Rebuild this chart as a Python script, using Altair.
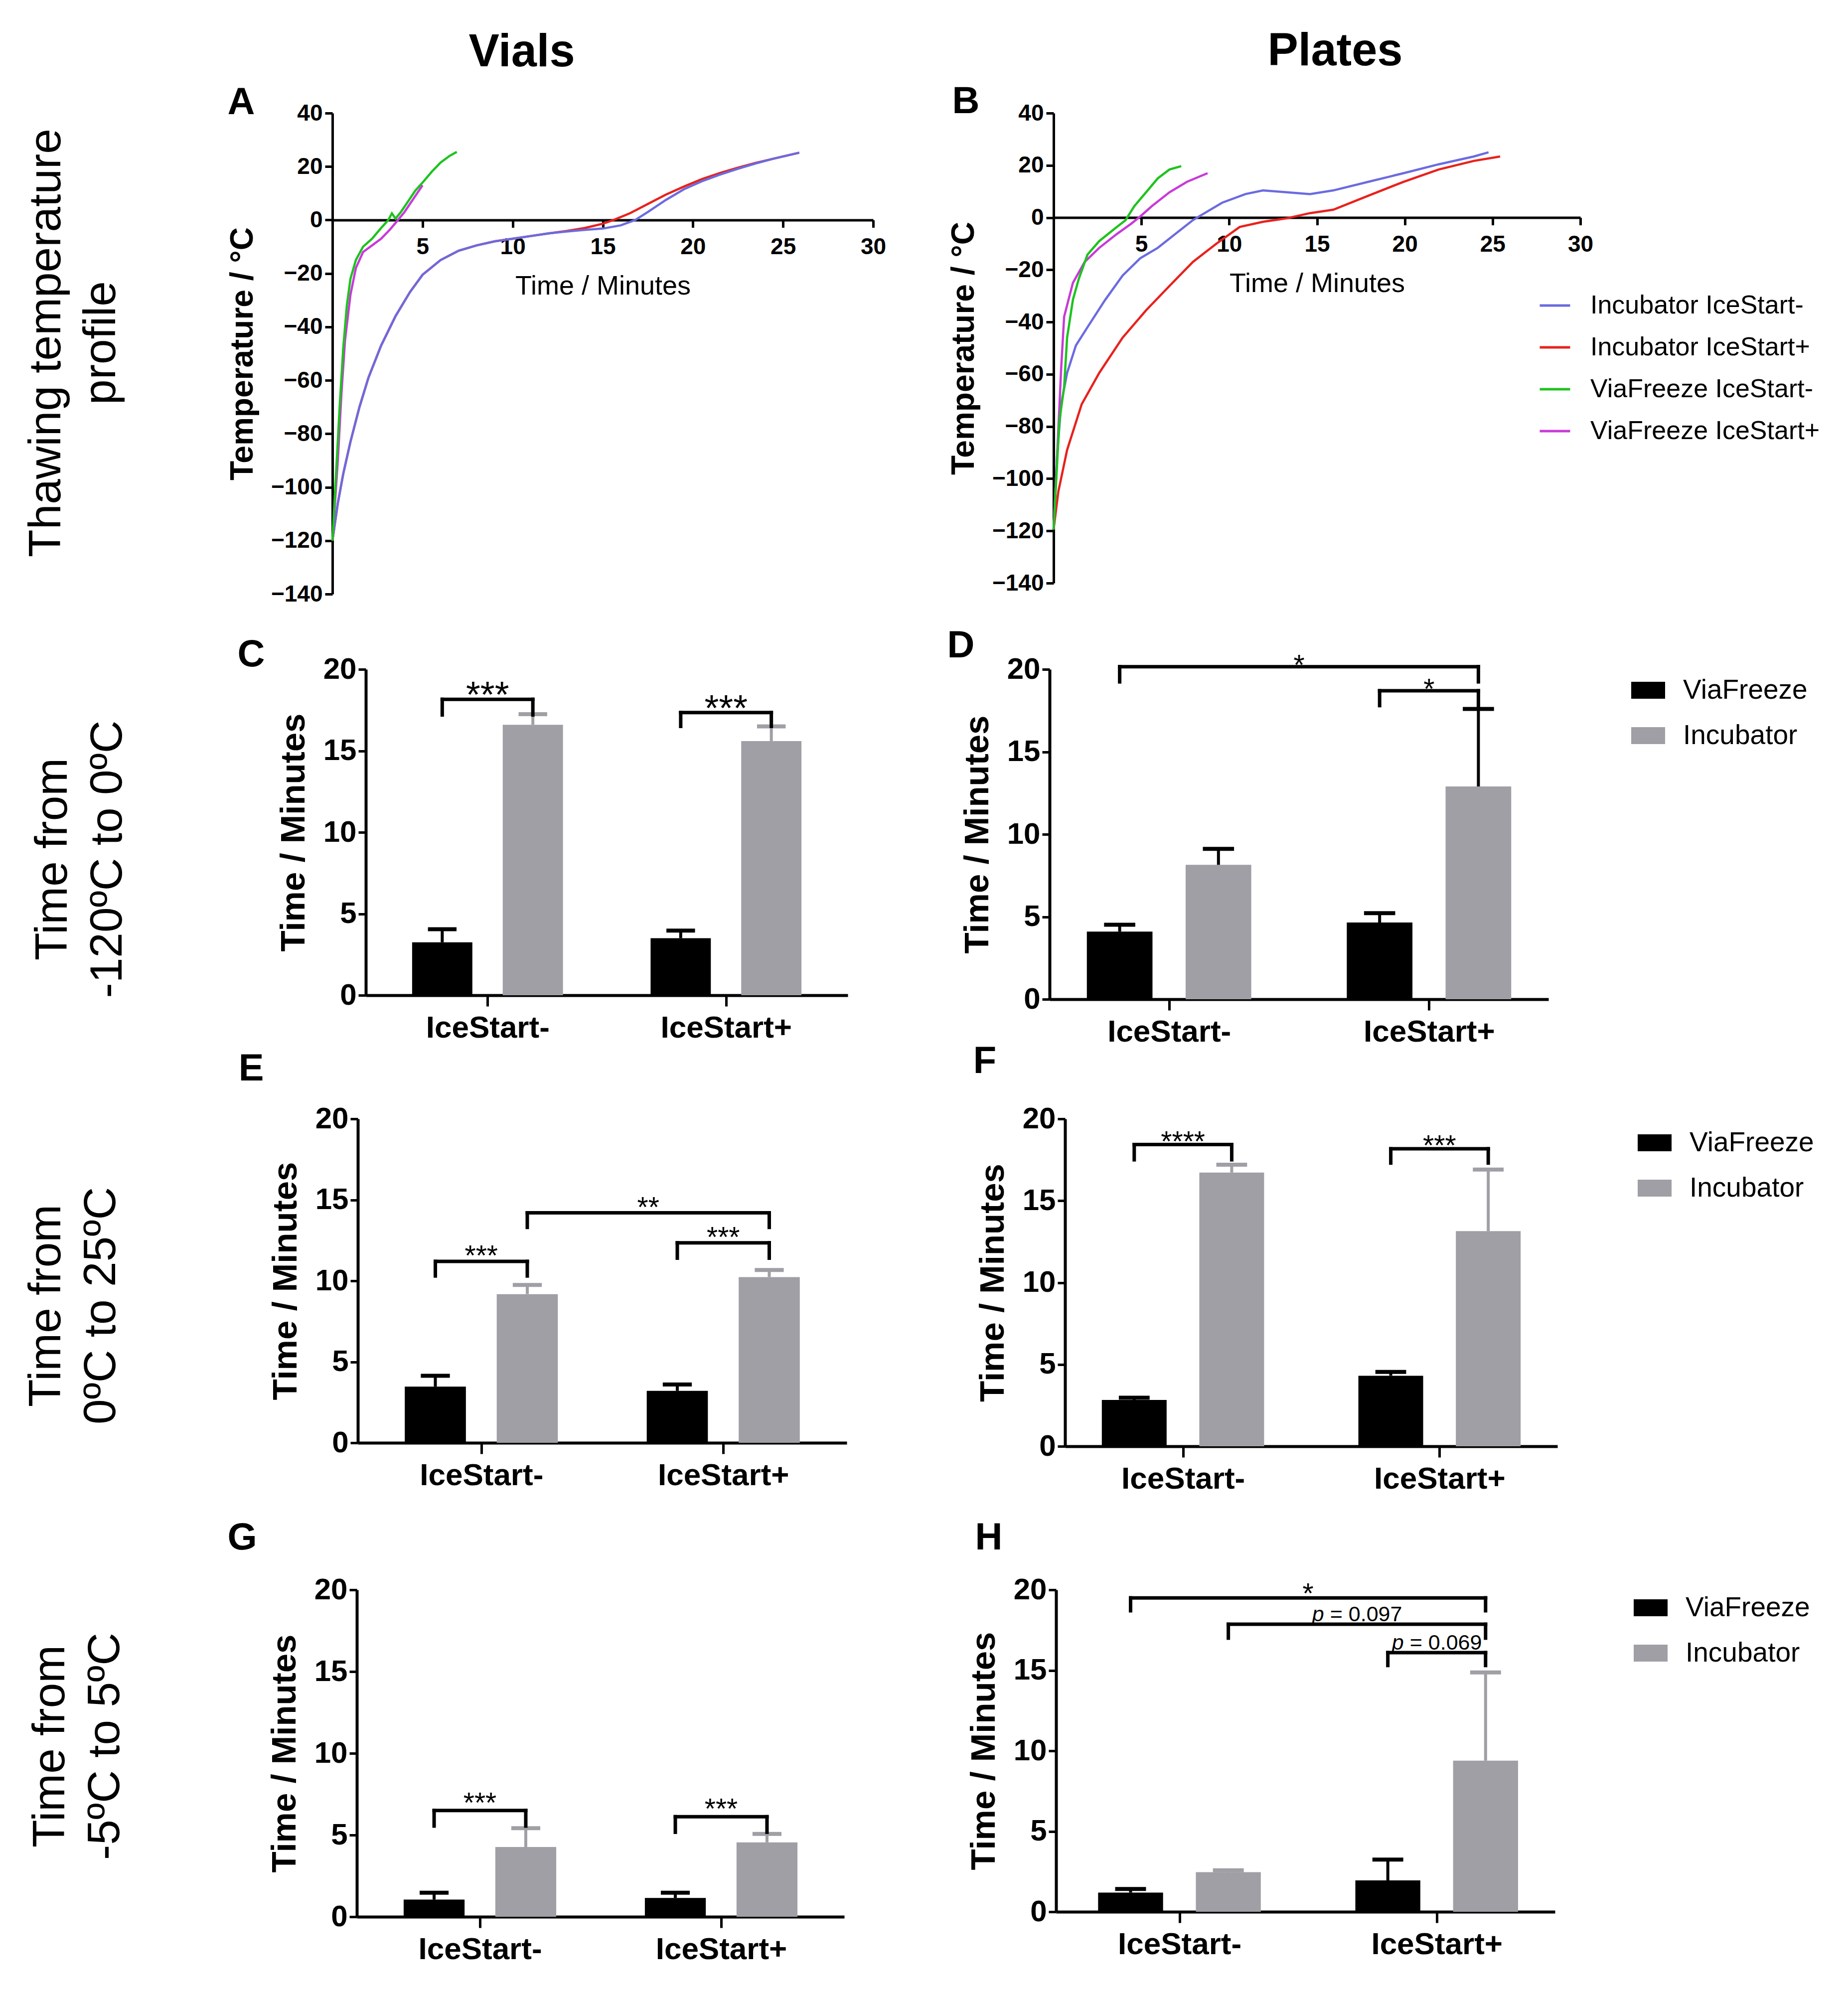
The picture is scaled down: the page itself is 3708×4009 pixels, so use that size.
import json
import altair as alt
import pandas as pd

FONT = "Liberation Sans"
GRAY = "#a09fa5"
BLACK = "#000000"

# ---------------- categories / labels ----------------
categories = ["IceStart-", "IceStart+"]
treatments = ["ViaFreeze", "Incubator"]
line_series = ["Incubator IceStart-", "Incubator IceStart+", "ViaFreeze IceStart-", "ViaFreeze IceStart+"]
line_colors = ["#6b6be0", "#e8211d", "#1dc31d", "#c83ad8"]
column_titles = ["Vials", "Plates"]
row_labels = [
    ["Thawing temperature", "profile"],
    ["Time from", "-120ºC to 0ºC"],
    ["Time from", "0ºC to 25ºC"],
    ["Time from", "-5ºC to 5ºC"],
]
panel_letters = ["A", "B", "C", "D", "E", "F", "G", "H"]
time_ticks = [5, 10, 15, 20, 25, 30]
temp_ticks = [-140, -120, -100, -80, -60, -40, -20, 0, 20, 40]
minute_ticks = [0, 5, 10, 15, 20]

# ---------------- panel A (vials) temperature profiles ----------------
a_inc_minus_t = [0, 0.3, 0.6, 1.0, 1.5, 2.0, 2.7, 3.5, 4.3, 5.0, 6.0, 7.0, 8.0, 9.0, 10.0, 11.0, 12.0, 13.0,
                 14.0, 15.0, 16.0, 16.8, 17.5, 18.5, 19.5, 20.5, 21.5, 22.5, 23.5, 24.5, 25.9]
a_inc_minus_v = [-120, -106, -95, -83, -70, -59, -47, -36, -27, -20.5, -15, -11.5, -9.5, -8, -7, -6, -5, -4.3,
                 -3.7, -3.2, -2, 0, 3, 7.5, 11.5, 14.5, 17, 19.2, 21.2, 23, 25.2]
a_inc_plus_t = [0, 0.3, 0.6, 1.0, 1.5, 2.0, 2.7, 3.5, 4.3, 5.0, 6.0, 7.0, 8.0, 9.0, 10.0, 11.0, 12.0, 13.0,
                14.0, 15.0, 15.6, 16.5, 17.5, 18.5, 19.5, 20.5, 21.5, 22.5, 23.5, 24.5, 25.9]
a_inc_plus_v = [-120, -106, -95, -83, -70, -59, -47, -36, -27, -20.5, -15, -11.5, -9.5, -8, -7, -6, -5, -4.1,
                -3, -1.4, 0, 2.5, 6, 9.5, 12.5, 15.3, 17.6, 19.6, 21.4, 23, 25.2]
a_vf_minus_t = [0, 0.2, 0.4, 0.6, 0.8, 1.0, 1.3, 1.7, 2.2, 2.7, 3.1, 3.3, 3.5, 3.8, 4.2, 4.6, 5.0, 5.5, 6.0, 6.5, 6.9]
a_vf_minus_v = [-120, -95, -70, -48, -32, -22, -15, -10, -7, -3, 0, 2.5, 0.5, 3, 7, 11, 14, 18, 21.5, 24, 25.5]
a_vf_plus_t = [0, 0.3, 0.5, 0.7, 1.0, 1.3, 1.7, 2.2, 2.7, 3.2, 3.6, 4.0, 4.5, 5.0]
a_vf_plus_v = [-120, -90, -65, -45, -28, -18, -12, -9.5, -7, -3.5, -0.3, 3, 8, 13]

# ---------------- panel B (plates) temperature profiles ----------------
b_inc_minus_t = [0, 0.2, 0.43, 0.77, 1.27, 1.93, 2.93, 3.93, 4.93, 5.93, 6.93, 7.93, 8.6, 9.6, 10.93, 11.93,
                 13.27, 14.6, 15.93, 17.93, 19.93, 21.93, 23.93, 24.77]
b_inc_minus_v = [-119.5, -91.5, -71.5, -59.5, -49, -42, -31.6, -22.2, -15.6, -11.6, -6.3, -1, 1.7, 5.7, 9, 10.4,
                 9.7, 9, 10.4, 13.7, 17, 20.4, 23.4, 25]
b_inc_plus_t = [0, 0.27, 0.77, 1.6, 2.6, 3.93, 5.27, 6.6, 7.93, 9.27, 10.6, 11.93, 13.27, 14.6, 15.93, 17.93,
                19.93, 21.93, 23.93, 25.43]
b_inc_plus_v = [-119.5, -105, -89, -71.5, -59.5, -46, -35.5, -26.2, -17, -10, -3.6, -1.6, -0.3, 1.7, 3, 8.4,
                13.7, 18.4, 21.7, 23.4]
b_vf_minus_t = [0, 0.33, 0.6, 0.77, 1.1, 1.43, 1.93, 2.6, 3.6, 4.1, 4.6, 5.27, 5.93, 6.6, 7.27]
b_vf_minus_v = [-119.5, -78, -65, -46, -31.5, -23.6, -14.2, -9, -3.6, -1, 4.4, 9.7, 15, 18.4, 19.7]
b_vf_plus_t = [0, 0.2, 0.43, 0.6, 1.1, 1.77, 2.6, 3.6, 4.43, 4.93, 5.6, 6.6, 7.6, 8.77]
b_vf_plus_v = [-119.5, -91.5, -58, -38, -25, -17, -11.6, -6.3, -2.3, 0.4, 4.4, 9.7, 13.7, 17]

# ---------------- bar panels: means and upper error (minutes) ----------------
c_vf_mean, c_vf_err = [3.25, 3.5], [0.8, 0.47]
c_inc_mean, c_inc_err = [16.6, 15.6], [0.65, 0.9]
d_vf_mean, d_vf_err = [4.1, 4.65], [0.42, 0.57]
d_inc_mean, d_inc_err = [8.15, 12.9], [0.97, 4.7]
e_vf_mean, e_vf_err = [3.47, 3.21], [0.67, 0.39]
e_inc_mean, e_inc_err = [9.18, 10.23], [0.57, 0.44]
f_vf_mean, f_vf_err = [2.83, 4.31], [0.14, 0.23]
f_inc_mean, f_inc_err = [16.72, 13.14], [0.48, 3.76]
g_vf_mean, g_vf_err = [1.05, 1.15], [0.42, 0.32]
g_inc_mean, g_inc_err = [4.27, 4.55], [1.15, 0.52]
h_vf_mean, h_vf_err = [1.19, 1.95], [0.23, 1.29]
h_inc_mean, h_inc_err = [2.46, 9.39], [0.12, 5.48]

# significance brackets: (from category, from treatment, to category, to treatment, top, leg end, label)
c_brackets = [("IceStart-", "ViaFreeze", "IceStart-", "Incubator", 18.16, 17.2, "***"),
              ("IceStart+", "ViaFreeze", "IceStart+", "Incubator", 17.35, 16.5, "***")]
d_brackets = [("IceStart-", "ViaFreeze", "IceStart+", "Incubator", 20.16, 19.24, "*"),
              ("IceStart+", "ViaFreeze", "IceStart+", "Incubator", 18.7, 17.8, "*")]
e_brackets = [("IceStart-", "ViaFreeze", "IceStart-", "Incubator", 11.2, 10.3, "***"),
              ("IceStart+", "ViaFreeze", "IceStart+", "Incubator", 12.35, 11.4, "***"),
              ("IceStart-", "Incubator", "IceStart+", "Incubator", 14.2, 13.3, "**")]
f_brackets = [("IceStart-", "ViaFreeze", "IceStart-", "Incubator", 18.43, 17.5, "****"),
              ("IceStart+", "ViaFreeze", "IceStart+", "Incubator", 18.17, 17.3, "***")]
g_brackets = [("IceStart-", "ViaFreeze", "IceStart-", "Incubator", 6.5, 5.55, "***"),
              ("IceStart+", "ViaFreeze", "IceStart+", "Incubator", 6.12, 5.17, "***")]
h_brackets = [("IceStart-", "ViaFreeze", "IceStart+", "Incubator", 19.5, 18.7, "*"),
              ("IceStart-", "Incubator", "IceStart+", "Incubator", 17.86, 17.0, "p = 0.097"),
              ("IceStart+", "ViaFreeze", "IceStart+", "Incubator", 16.1, 15.3, "p = 0.069")]

# ---------------- helpers ----------------
OFFSET = {"ViaFreeze": -0.19, "Incubator": 0.19}


def line_df(parts):
    rows = []
    for name, ts, vs in parts:
        for t, v in zip(ts, vs):
            rows.append({"series": name, "t": t, "temp": v})
    return pd.DataFrame(rows)


def bar_df(vf_mean, vf_err, inc_mean, inc_err):
    rows = []
    for i, c in enumerate(categories):
        for trt, m, e in (("ViaFreeze", vf_mean[i], vf_err[i]), ("Incubator", inc_mean[i], inc_err[i])):
            rows.append({"cat": c, "trt": trt, "pos": i + OFFSET[trt], "mean": m, "top": m + e})
    return pd.DataFrame(rows)


def bracket_df(brackets):
    rows = []
    for c1, t1, c2, t2, ytop, yleg, lab in brackets:
        x1 = categories.index(c1) + OFFSET[t1]
        x2 = categories.index(c2) + OFFSET[t2]
        rows.append({"x1": x1, "x2": x2, "xm": (x1 + x2) / 2, "ytop": ytop, "yleg": yleg, "label": lab})
    return pd.DataFrame(rows)


def free_text(txt, x, y, size, weight="bold"):
    return alt.Chart(pd.DataFrame({"label": [txt]})).mark_text(
        font=FONT, fontSize=size, fontWeight=weight, align="center", baseline="middle", color=BLACK
    ).encode(x=alt.value(x), y=alt.value(y), text="label:N")


def line_panel(df, w, h, letter, letter_xy, col_title, col_xy, legend_xy=None):
    x_axis = alt.Axis(values=time_ticks, offset=-h * 140 / 180, title="Time / Minutes",
                      titleFontWeight="normal", titleFontSize=54, titlePadding=29,
                      labelFontSize=46, labelFontWeight="bold", labelPadding=17, labelLimit=0,
                      tickSize=15, tickWidth=5, domainWidth=5, labelFlush=False, labelOverlap=False)
    y_axis = alt.Axis(values=temp_ticks, title="Temperature / °C", titleFontSize=64, titleFontWeight="bold",
                      titlePadding=24, labelFontSize=46, labelFontWeight="bold", labelPadding=5, labelLimit=0,
                      tickSize=15, tickWidth=5, domainWidth=5, labelFlush=False, labelOverlap=False)
    if legend_xy is not None:
        legend = alt.Legend(title=None, orient="none", legendX=legend_xy[0], legendY=legend_xy[1],
                            symbolType="stroke", symbolSize=3721, symbolStrokeWidth=5, labelLimit=0,
                            labelFontSize=52, labelOffset=38, rowPadding=25, padding=0, labelColor=BLACK)
    else:
        legend = None
    lines = alt.Chart(df).mark_line(strokeWidth=4.5).encode(
        x=alt.X("t:Q", scale=alt.Scale(domain=[0, 30], nice=False, zero=False), axis=x_axis),
        y=alt.Y("temp:Q", scale=alt.Scale(domain=[-140, 40], nice=False, zero=False), axis=y_axis),
        color=alt.Color("series:N", scale=alt.Scale(domain=line_series, range=line_colors), legend=legend),
    )
    return alt.layer(
        lines,
        free_text(letter, letter_xy[0], letter_xy[1], 76),
        free_text(col_title, col_xy[0], col_xy[1], 92),
    ).properties(width=w, height=h)


def bar_panel(bars, brackets, w, h, xdom, letter, letter_xy, legend_xy=None, inc_err_color=GRAY,
              star_size=57, star_dy=10):
    unit = w / (xdom[1] - xdom[0])
    bw = 0.25 * unit
    xs = alt.Scale(domain=xdom, nice=False, zero=False)
    ys = alt.Scale(domain=[0, 20], nice=False, zero=True)
    x_axis = alt.Axis(values=[0, 1], labelExpr=json.dumps(categories) + "[datum.value]", title=None,
                      labelFontSize=62, labelFontWeight="bold", labelPadding=13, labelLimit=0,
                      tickSize=22, tickWidth=5, domainWidth=6, labelFlush=False, labelOverlap=False)
    y_axis = alt.Axis(values=minute_ticks, title="Time / Minutes", titleFontSize=69, titleFontWeight="bold",
                      titlePadding=24, labelFontSize=60, labelFontWeight="bold", labelPadding=4, labelLimit=0,
                      tickSize=15, tickWidth=5, domainWidth=6, labelFlush=False, labelOverlap=False)
    if legend_xy is not None:
        legend = alt.Legend(title=None, orient="none", legendX=legend_xy[0], legendY=legend_xy[1],
                            symbolType="M-1,-0.5H1V0.5H-1Z", symbolSize=4624, symbolStrokeWidth=0,
                            symbolOpacity=1, labelFontSize=55, labelOffset=36, rowPadding=29, padding=0,
                            labelColor=BLACK, labelLimit=0)
    else:
        legend = None
    base = alt.Chart(bars)
    bar = base.mark_bar(size=bw).encode(
        x=alt.X("pos:Q", scale=xs, axis=x_axis),
        y=alt.Y("mean:Q", scale=ys, axis=y_axis),
        color=alt.Color("trt:N", scale=alt.Scale(domain=treatments, range=[BLACK, GRAY]), legend=legend),
    )
    layers = [bar]
    for trt, col in (("ViaFreeze", BLACK), ("Incubator", inc_err_color)):
        sub = base.transform_filter(f"datum.trt == '{trt}'")
        layers.append(sub.mark_rule(color=col, strokeWidth=6).encode(x="pos:Q", y="mean:Q", y2="top:Q"))
        layers.append(sub.transform_calculate(l="datum.pos - 0.06", r="datum.pos + 0.06")
                      .mark_rule(color=col, strokeWidth=8).encode(x="l:Q", x2="r:Q", y="top:Q"))
    bb = alt.Chart(brackets)
    rule = dict(color=BLACK, strokeWidth=7, strokeCap="square")
    layers.append(bb.mark_rule(**rule).encode(x="x1:Q", x2="x2:Q", y="ytop:Q"))
    layers.append(bb.mark_rule(**rule).encode(x="x1:Q", y="yleg:Q", y2="ytop:Q"))
    layers.append(bb.mark_rule(**rule).encode(x="x2:Q", y="yleg:Q", y2="ytop:Q"))
    stars = bb.transform_filter("indexof(datum.label, 'p') < 0")
    layers.append(stars.mark_text(font=FONT, fontSize=star_size, baseline="alphabetic", align="center",
                                  dy=star_dy, color=BLACK).encode(x="xm:Q", y="ytop:Q", text="label:N"))
    if any(str(r).startswith("p") for r in brackets["label"]):
        pv = bb.transform_filter("indexof(datum.label, 'p') == 0")
        layers.append(pv.mark_text(font=FONT, fontSize=43, fontStyle="italic", text="p", align="right",
                                   baseline="alphabetic", dx=-66, dy=-6, color=BLACK)
                      .encode(x="xm:Q", y="ytop:Q"))
        layers.append(pv.transform_calculate(rest="substring(datum.label, 2)")
                      .mark_text(font=FONT, fontSize=43, align="left", baseline="alphabetic", dx=-54, dy=-6,
                                 color=BLACK)
                      .encode(x="xm:Q", y="ytop:Q", text="rest:N"))
    layers.append(free_text(letter, letter_xy[0], letter_xy[1], 76))
    return alt.layer(*layers).properties(width=w, height=h)


def label_chart(lines, w, h, cx, cy, frame_top, frame_bottom):
    one = pd.DataFrame({"k": [0]})
    txt = alt.Chart(one).mark_text(
        text=lines, angle=270, font=FONT, fontSize=91, lineHeight=110, align="center",
        baseline="middle", color=BLACK
    ).encode(x=alt.value(cx), y=alt.value(cy))
    # invisible vertical extent marker: fixes the row's layout band
    frame = alt.Chart(one).mark_rule(strokeOpacity=0, strokeWidth=1).encode(
        x=alt.value(0), y=alt.value(-frame_top), y2=alt.value(frame_bottom))
    return alt.layer(txt, frame).properties(width=w, height=h)


# ---------------- panels ----------------
df_a = line_df([(line_series[1], a_inc_plus_t, a_inc_plus_v), (line_series[0], a_inc_minus_t, a_inc_minus_v),
                (line_series[3], a_vf_plus_t, a_vf_plus_v), (line_series[2], a_vf_minus_t, a_vf_minus_v)])
df_b = line_df([(line_series[1], b_inc_plus_t, b_inc_plus_v), (line_series[0], b_inc_minus_t, b_inc_minus_v),
                (line_series[3], b_vf_plus_t, b_vf_plus_v), (line_series[2], b_vf_minus_t, b_vf_minus_v)])

pA = line_panel(df_a, 1085, 965, panel_letters[0], (-183, -21), column_titles[0], (380, -122))
pB = line_panel(df_b, 1057, 943, panel_letters[1], (-176, -23), column_titles[1], (565, -124),
                legend_xy=(973, 353))

pC = bar_panel(bar_df(c_vf_mean, c_vf_err, c_inc_mean, c_inc_err), bracket_df(c_brackets), 967, 654,
               [-0.5, 1.5], panel_letters[2], (-230, -29), star_size=74, star_dy=16)
pD = bar_panel(bar_df(d_vf_mean, d_vf_err, d_inc_mean, d_inc_err), bracket_df(d_brackets), 1001, 662,
               [-0.45, 1.45], panel_letters[3], (-178, -47), legend_xy=(1167, 8), inc_err_color=BLACK,
               star_dy=16)
pE = bar_panel(bar_df(e_vf_mean, e_vf_err, e_inc_mean, e_inc_err), bracket_df(e_brackets), 981, 650,
               [-0.5, 1.5], panel_letters[4], (-214, -100), star_dy=8)
pF = bar_panel(bar_df(f_vf_mean, f_vf_err, f_inc_mean, f_inc_err), bracket_df(f_brackets), 988, 657,
               [-0.45, 1.45], panel_letters[5], (-161, -115), legend_xy=(1149, 14), star_dy=13)
pG = bar_panel(bar_df(g_vf_mean, g_vf_err, g_inc_mean, g_inc_err), bracket_df(g_brackets), 978, 656,
               [-0.5, 1.5], panel_letters[6], (-230, -104), star_dy=4)
pH = bar_panel(bar_df(h_vf_mean, h_vf_err, h_inc_mean, h_inc_err), bracket_df(h_brackets), 1001, 646,
               [-0.47, 1.45], panel_letters[7], (-135, -104), legend_xy=(1159, 2), star_dy=11)

ROW_GAP = -40
row1 = alt.hconcat(label_chart(row_labels[0], 297, 965, 86, 461, 200, 1015), pA, pB, spacing=362,
                   bounds="flush").resolve_scale(color="independent")
row2 = alt.hconcat(label_chart(row_labels[1], 321, 662, 99, 381, 141, 774), pC, pD, spacing=405,
                   bounds="flush").resolve_scale(color="independent")
row3 = alt.hconcat(label_chart(row_labels[2], 272, 657, 86, 375, 168, 786), pE, pF, spacing=438,
                   bounds="flush").resolve_scale(color="independent")
row4 = alt.hconcat(label_chart(row_labels[3], 283, 656, 94, 314, 199, 800), pG, pH, spacing=425,
                   bounds="flush").resolve_scale(color="independent")

chart = alt.vconcat(row1, row2, row3, row4, spacing=ROW_GAP).resolve_scale(
    color="independent"
).properties(
    padding={"left": 0, "top": 19, "right": 10, "bottom": 10}, background="white"
).configure_view(stroke=None).configure_axis(
    labelFont=FONT, titleFont=FONT, labelColor=BLACK, titleColor=BLACK, domainColor=BLACK,
    tickColor=BLACK, grid=False
).configure_legend(labelFont=FONT, labelColor=BLACK)

chart.save("out.html", embed_options={"renderer": "svg", "actions": False})
